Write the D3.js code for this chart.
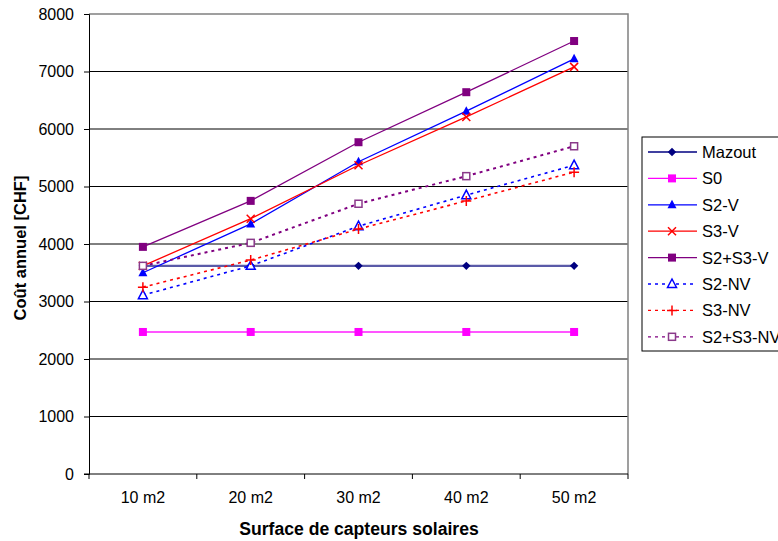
<!DOCTYPE html>
<html><head><meta charset="utf-8">
<script src="https://cdn.jsdelivr.net/npm/d3@7"></script>
<style>body{margin:0;background:#fff;} svg{display:block;font-family:"Liberation Sans",Arial,sans-serif;}</style>
</head><body>
<svg id="c" width="778" height="541"></svg>
<script>
const categories = ["10 m2","20 m2","30 m2","40 m2","50 m2"];
const yTicks = [0,1000,2000,3000,4000,5000,6000,7000,8000];
const seriesNames = ["Mazout","S0","S2-V","S3-V","S2+S3-V","S2-NV","S3-NV","S2+S3-NV"];
const mazout   = [3620,3620,3620,3620,3620];
const s0       = [2470,2470,2470,2470,2470];
const s2v      = [3500,4350,5430,6310,7220];
const s3v      = [3620,4440,5370,6210,7080];
const s23v     = [3950,4750,5770,6640,7530];
const s2nv     = [3110,3620,4310,4850,5370];
const s3nv     = [3250,3720,4260,4750,5250];
const s23nv    = [3620,4020,4700,5180,5700];
const xTitle = "Surface de capteurs solaires";
const yTitle = "Coût annuel [CHF]";

const styles = [
  {line:"#5a5aa8", legLine:"#000080", mark:"diamond", fill:"#000080", stroke:"#000080", w:2.2, dash:null},
  {line:"#ff55ff", legLine:"#ff00ff", mark:"square", fill:"#ff00ff", stroke:"#ff00ff", w:2, dash:null},
  {line:"#0000ff", legLine:"#0000ff", mark:"triangle", fill:"#0000ff", stroke:"#0000ff", w:1.3, dash:null},
  {line:"#ff0000", legLine:"#ff0000", mark:"x", fill:"none", stroke:"#ff0000", w:1.3, dash:null},
  {line:"#800080", legLine:"#800080", mark:"square", fill:"#800080", stroke:"#800080", w:1.3, dash:null},
  {line:"#0000ff", legLine:"#0000ff", mark:"triangleO", fill:"#fff", stroke:"#0000ff", w:1.6, dash:"3,4"},
  {line:"#ff0000", legLine:"#ff0000", mark:"plus", fill:"none", stroke:"#ff0000", w:1.6, dash:"3,4"},
  {line:"#800080", legLine:"#800080", mark:"squareO", fill:"#fff", stroke:"#8a3a8a", w:2, dash:"3,4"}
];
const allValues = [mazout,s0,s2v,s3v,s23v,s2nv,s3nv,s23nv];

const svg = d3.select("#c");
const L=89, R=628, T=14, B=474;
const x = d3.scaleBand().domain(categories).range([L,R]);
const y = d3.scaleLinear().domain([0,8000]).range([B,T]);
const cx = d => x(d)+x.bandwidth()/2;

// gridlines
svg.append("g").selectAll("line").data(yTicks.filter(t=>t>0 && t<8000)).join("line")
  .attr("x1",L).attr("x2",R).attr("y1",d=>y(d)).attr("y2",d=>y(d))
  .attr("stroke","#000").attr("stroke-width",1);
// border top/right
svg.append("path").attr("d",`M${L},${y(8000)}H${R}V${B}`).attr("fill","none").attr("stroke","#808080").attr("stroke-width",1.5);

// axes
const yAxis = d3.axisLeft(y).tickValues(yTicks).tickSize(5).tickPadding(10).tickFormat(d3.format("d"));
const gy = svg.append("g").attr("transform",`translate(${L},0)`).call(yAxis);
gy.select(".domain").attr("stroke","#000");
gy.selectAll("text").attr("font-size",16).attr("fill","#000").attr("font-family","Liberation Sans, Arial, sans-serif");
const gx = svg.append("g").attr("transform",`translate(0,${B})`);
gx.append("line").attr("x1",L-5).attr("x2",R).attr("y1",0).attr("y2",0).attr("stroke","#000");
const edges = categories.map(c=>x(c)).concat([R]);
gx.selectAll("line.t").data(edges).join("line").attr("class","t")
  .attr("x1",d=>d).attr("x2",d=>d).attr("y1",0).attr("y2",5).attr("stroke","#000");
gx.selectAll("text").data(categories).join("text")
  .attr("x",d=>cx(d)).attr("y",29).attr("text-anchor","middle").attr("font-size",16).text(d=>d);

// titles
svg.append("text").attr("x",359).attr("y",535).attr("text-anchor","middle")
  .attr("font-size",17.6).attr("font-weight","bold").text(xTitle);
svg.append("text").attr("transform","translate(26,248) rotate(-90)").attr("text-anchor","middle")
  .attr("font-size",16.5).attr("font-weight","bold").text(yTitle);

function marker(g, type, st, px, py){
  const s=4.2;
  if(type==="diamond") g.append("path").attr("d",`M${px},${py-s}L${px+s},${py}L${px},${py+s}L${px-s},${py}Z`).attr("fill",st.fill);
  else if(type==="square") g.append("rect").attr("x",px-4).attr("y",py-4).attr("width",8).attr("height",8).attr("fill",st.fill);
  else if(type==="squareO") g.append("rect").attr("x",px-3.5).attr("y",py-3.5).attr("width",7).attr("height",7).attr("fill","#fff").attr("stroke",st.stroke).attr("stroke-width",1.5);
  else if(type==="triangle") g.append("path").attr("d",`M${px},${py-5}L${px+4.5},${py+3.5}L${px-4.5},${py+3.5}Z`).attr("fill",st.fill);
  else if(type==="triangleO") g.append("path").attr("d",`M${px},${py-5}L${px+4.5},${py+3.5}L${px-4.5},${py+3.5}Z`).attr("fill","#fff").attr("stroke",st.stroke).attr("stroke-width",1.5);
  else if(type==="x") g.append("path").attr("d",`M${px-4},${py-4}L${px+4},${py+4}M${px+4},${py-4}L${px-4},${py+4}`).attr("stroke",st.stroke).attr("stroke-width",1.5);
  else if(type==="plus") g.append("path").attr("d",`M${px-5},${py}H${px+5}M${px},${py-5}V${py+5}`).attr("stroke",st.stroke).attr("stroke-width",1.5);
}

const line = d3.line().x((d,i)=>cx(categories[i])).y(d=>y(d));
allValues.forEach((vals,k)=>{
  const st = styles[k];
  const g = svg.append("g");
  g.append("path").attr("d",line(vals)).attr("fill","none").attr("stroke",st.line)
    .attr("stroke-width",st.w).attr("stroke-dasharray",st.dash);
  vals.forEach((v,i)=>marker(g, st.mark, st, cx(categories[i]), y(v)));
});

// legend
const lg = svg.append("g");
lg.append("rect").attr("x",642).attr("y",137).attr("width",160).attr("height",214)
  .attr("fill","#fff").attr("stroke","#000").attr("stroke-width",1);
seriesNames.forEach((n,k)=>{
  const st = styles[k];
  const yy = 152 + k*26.4;
  lg.append("line").attr("x1",648).attr("x2",697).attr("y1",yy).attr("y2",yy)
    .attr("stroke",st.legLine).attr("stroke-width",1.3).attr("stroke-dasharray",st.dash);
  marker(lg, st.mark, st, 672, yy);
  lg.append("text").attr("x",702).attr("y",yy+6).attr("font-size",16.5).text(n);
});
</script>
</body></html>
